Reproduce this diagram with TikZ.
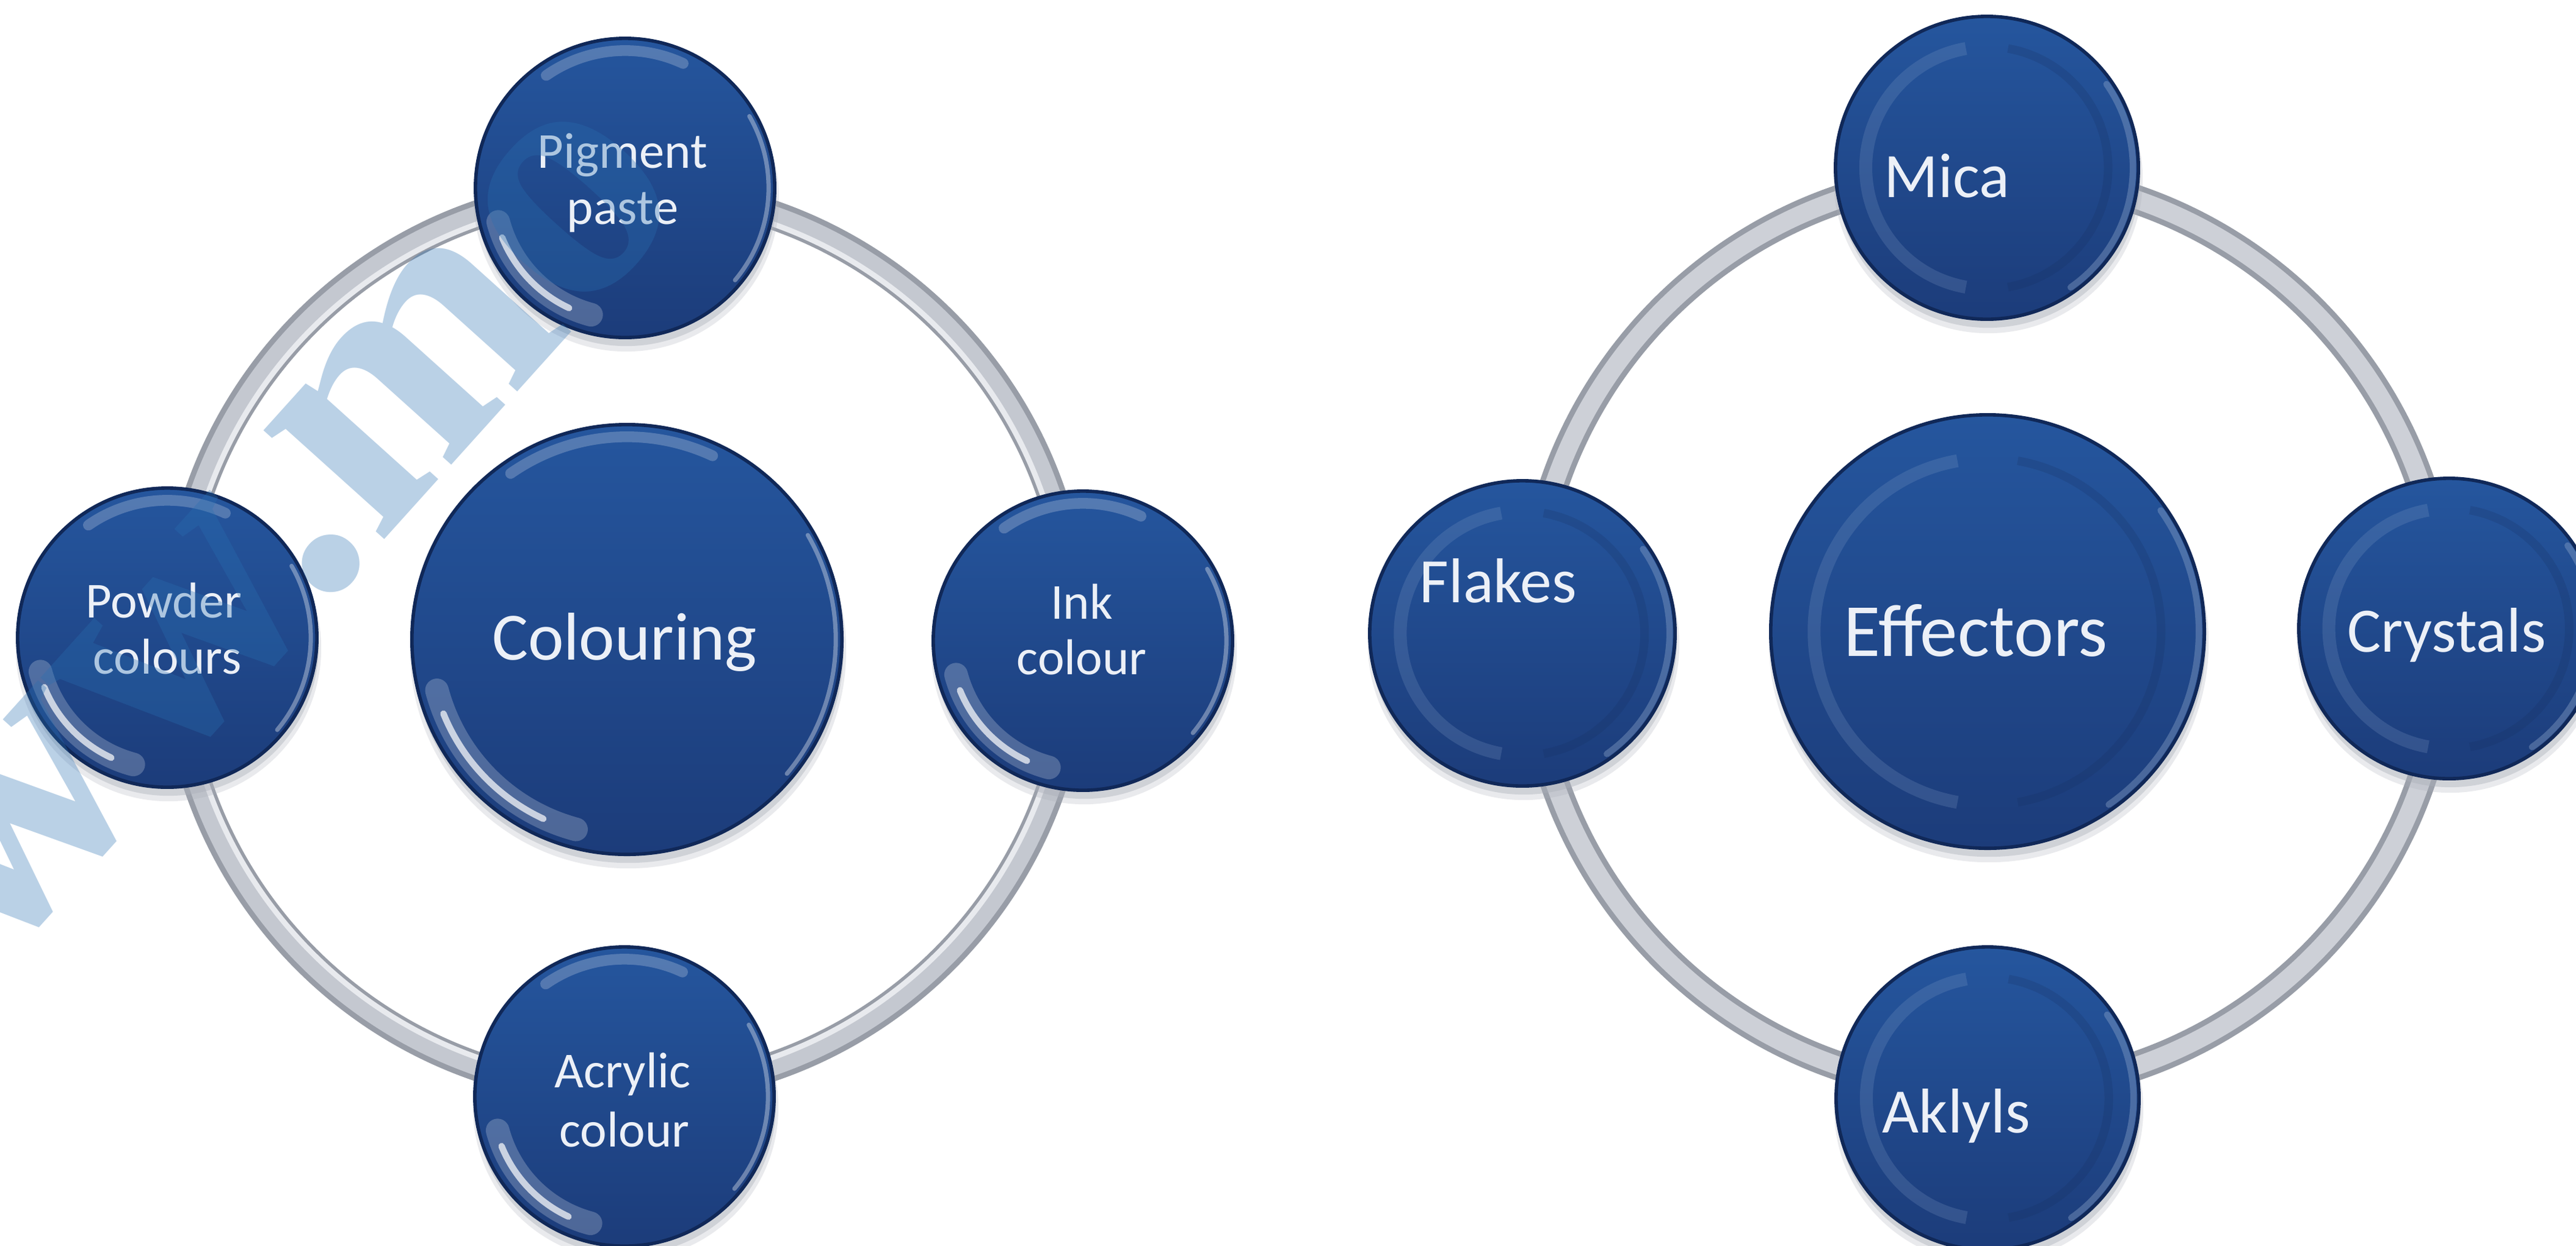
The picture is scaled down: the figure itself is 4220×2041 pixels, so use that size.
\documentclass[tikz,border=0pt]{standalone}
\usepackage{fontspec}
\setmainfont{Carlito}
\newfontfamily\wmfont{Liberation Serif}
\usetikzlibrary{calc}
\definecolor{ballTop}{RGB}{37,86,158}
\definecolor{ballBot}{RGB}{28,60,122}
\definecolor{ballRim}{RGB}{16,40,88}
\definecolor{ringDark}{RGB}{152,157,167}
\definecolor{ringMid}{RGB}{196,200,208}
\definecolor{ringLight}{RGB}{232,234,238}
\definecolor{wmblue}{RGB}{41,112,178}
\definecolor{labelc}{RGB}{236,240,247}
\definecolor{shadowc}{RGB}{170,174,184}

\tikzset{
  ball/.style={circle, inner sep=0pt, minimum size=#1, top color=ballTop, bottom color=ballBot, draw=ballRim, line width=1.6pt},
  ringA/.style={draw=ringDark, line width=13.6pt},
  ringB/.style={draw=ringMid, line width=8.5pt},
  ringC/.style={draw=ringLight, line width=2.5pt},
  lblS/.style={text=labelc, inner sep=0pt, anchor=base, font=\fontsize{23.5}{28}\selectfont},
  lblM/.style={text=labelc, inner sep=0pt, anchor=base, font=\fontsize{29.5}{35}\selectfont},
  lblL/.style={text=labelc, inner sep=0pt, anchor=base, font=\fontsize{31.5}{38}\selectfont},
  lblXL/.style={text=labelc, inner sep=0pt, anchor=base, font=\fontsize{35}{42}\selectfont},
  wmark/.style={text=wmblue, text opacity=0.32, inner sep=0pt, anchor=base west, font=\wmfont\bfseries\fontsize{165}{165}\selectfont},
}

\newcommand\ShadowAt[2]{%
  \begin{scope}[shift={(#1)}, x=1cm, y=1cm]
    \fill[shadowc, opacity=0.25] (0.02,-0.18) circle ({#2+0.05});
    \fill[shadowc, opacity=0.4] (0.02,-0.13) circle ({#2+0.01});
  \end{scope}}

\newcommand\GlossL[2]{%
  \begin{scope}[shift={(#1)}, x=1cm, y=1cm]
    \draw[white, opacity=0.22, line width=11pt, line cap=round] ({195}:{#2-0.3}) arc[start angle=195, end angle=255, radius={#2-0.3}];
    \draw[white, opacity=0.7, line width=3pt, line cap=round] ({202}:{#2-0.28}) arc[start angle=202, end angle=245, radius={#2-0.28}];
    \draw[white, opacity=0.22, line width=5pt, line cap=round] ({65}:{#2-0.2}) arc[start angle=65, end angle=125, radius={#2-0.2}];
    \draw[white, opacity=0.35, line width=2pt, line cap=round] ({-40}:{#2-0.1}) arc[start angle=-40, end angle=30, radius={#2-0.1}];
  \end{scope}}

\newcommand\BevelR[2]{%
  \begin{scope}[shift={(#1)}, x=1cm, y=1cm]
    \draw[ballTop!55!white, opacity=0.22, line width=6pt] ({100}:{0.8*#2}) arc[start angle=100, end angle=260, radius={0.8*#2}];
    \draw[ballBot!75!black, opacity=0.2, line width=4pt] ({-80}:{0.8*#2}) arc[start angle=-80, end angle=80, radius={0.8*#2}];
    \draw[ballTop!45!white, opacity=0.35, line width=3pt, line cap=round] ({-55}:{#2-0.09}) arc[start angle=-55, end angle=35, radius={#2-0.09}];
  \end{scope}}

\begin{document}
\begin{tikzpicture}[x=0.01cm, y=-0.01cm]
\useasboundingbox (0,0) rectangle (4220,2041);
\clip (0,0) rectangle (4220,2041);
\fill[white] (0,0) rectangle (4220,2041);

% ---------- left group ----------
\coordinate (Lc) at (1024,1050);
\draw[ringA] (Lc) circle[radius=7.38cm];
\draw[ringB] (Lc) circle[radius=7.38cm];
\draw[ringC] (Lc) circle[radius=7.24cm];

\coordinate (pL0) at (1027,1048);
\coordinate (pL1) at (1024,308);
\coordinate (pL2) at (274,1045);
\coordinate (pL3) at (1774,1050);
\coordinate (pL4) at (1023,1797);

\ShadowAt{pL0}{3.52}
\ShadowAt{pL1}{2.45}
\ShadowAt{pL2}{2.45}
\ShadowAt{pL3}{2.45}
\ShadowAt{pL4}{2.45}

\node[ball=7.04cm] (L0) at (pL0) {};
\node[ball=4.9cm] (L1) at (pL1) {};
\node[ball=4.9cm] (L2) at (pL2) {};
\node[ball=4.9cm] (L3) at (pL3) {};
\node[ball=4.9cm] (L4) at (pL4) {};

\GlossL{L0.center}{3.52}
\GlossL{L1.center}{2.45}
\GlossL{L2.center}{2.45}
\GlossL{L3.center}{2.45}
\GlossL{L4.center}{2.45}

\node[lblL] (L0a) at (1023,1081) {Colouring};
\node[lblS] (L1a) at (1020,275) {Pigment};
\node[lblS] (L1b) at (1020,367) {paste};
\node[lblS] (L2a) at (268,1012) {Powder};
\node[lblS] (L2b) at (274,1104) {colours};
\node[lblS] (L3a) at (1772,1014) {Ink};
\node[lblS] (L3b) at (1772,1105) {colour};
\node[lblS] (L4a) at (1020,1782) {Acrylic};
\node[lblS] (L4b) at (1023,1879) {colour};

% ---------- right group ----------
\coordinate (Rc) at (3256,1037);
\draw[ringA] (Rc) circle[radius=7.5cm];
\draw[ringB, draw=ringMid!85!white] (Rc) circle[radius=7.5cm];

\coordinate (pR0) at (3256,1035);
\coordinate (pR1) at (3255,275);
\coordinate (pR2) at (2494,1038);
\coordinate (pR3) at (4012,1030);
\coordinate (pR4) at (3256,1800);

\ShadowAt{pR0}{3.55}
\ShadowAt{pR1}{2.48}
\ShadowAt{pR2}{2.5}
\ShadowAt{pR3}{2.46}
\ShadowAt{pR4}{2.48}

\node[ball=7.1cm] (R0) at (pR0) {};
\node[ball=4.96cm] (R1) at (pR1) {};
\node[ball=5.0cm] (R2) at (pR2) {};
\node[ball=4.92cm] (R3) at (pR3) {};
\node[ball=4.96cm] (R4) at (pR4) {};

\BevelR{R0.center}{3.55}
\BevelR{R1.center}{2.48}
\BevelR{R2.center}{2.5}
\BevelR{R3.center}{2.46}
\BevelR{R4.center}{2.48}

\node[lblXL] (R0a) at (3237,1075) {Effectors};
\node[lblM, anchor=base west] (R1a) at (3086,323) {Mica};
\node[lblM, anchor=base west] (R2a) at (2325,987) {Flakes};
\node[lblM] (R3a) at (4008,1068) {Crystals};
\node[lblM, anchor=base west] (R4a) at (3083,1856) {Aklyls};

% ---------- watermark ----------
\node[wmark, rotate=48] (wm) at (-298,1914) {www.mo};
\end{tikzpicture}
\end{document}
